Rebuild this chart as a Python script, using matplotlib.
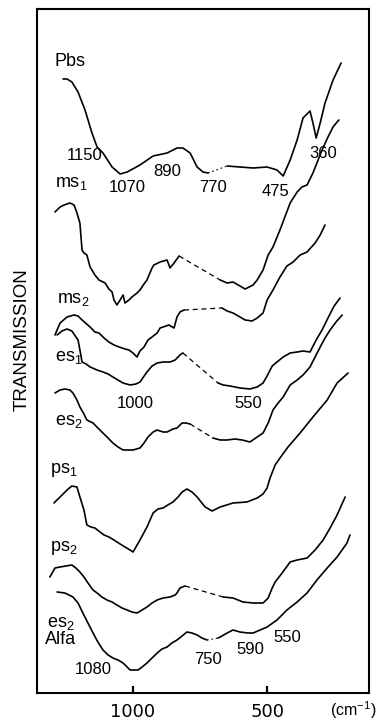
import numpy as np
import matplotlib
matplotlib.use('Agg')
import matplotlib.pyplot as plt

plt.rcParams['font.family'] = ['Liberation Sans', 'DejaVu Sans']
plt.rcParams['mathtext.fontset'] = 'custom'
plt.rcParams['mathtext.rm'] = 'Liberation Sans'
plt.rcParams['mathtext.it'] = 'Liberation Sans'

# IR spectra, wavenumber (cm-1) vs transmission (arbitrary, offset units)
# each spectrum has a section drawn dashed between the two gap wavenumbers
pbs_wn = [1261, 1246, 1228, 1205, 1179, 1153, 1134, 1112, 1078, 1048, 1022, 974, 925, 873, 836, 814,
          787, 761, 739, 720, 649, 601, 552, 500, 463, 440, 414, 388, 366, 340, 329, 317, 302, 284, 254, 224]
pbs_t = [614, 614, 611, 601, 583, 560, 546, 540, 526, 519, 521, 528, 537, 540, 545, 545,
         540, 526, 521, 520, 527, 526, 525, 526, 523, 517, 533, 553, 575, 582, 570, 555, 570, 590, 613, 630]
pbs_gap = (720, 649)

ms1_wn = [1291, 1272, 1257, 1235, 1220, 1209, 1198, 1190, 1183, 1172, 1160, 1142, 1127, 1104, 1090, 1078,
          1071, 1060, 1048, 1037, 1030, 1015, 1004, 985, 974, 959, 948, 929, 922, 899, 873, 862, 847, 828,
          675, 649, 627, 601, 582, 552, 537, 515, 496, 478, 452, 414, 388, 370, 351, 329, 295, 273, 254, 239, 232]
ms1_t = [481, 486, 488, 490, 488, 480, 470, 443, 440, 438, 426, 418, 413, 410, 404, 401,
         393, 388, 393, 398, 390, 393, 396, 400, 403, 409, 413, 425, 428, 431, 433, 425, 430, 437,
         413, 410, 411, 407, 404, 408, 413, 423, 438, 446, 463, 490, 501, 506, 508, 520, 543, 556, 566, 571, 573]
ms1_gap = (828, 675)

ms2_wn = [1291, 1272, 1246, 1220, 1205, 1190, 1160, 1142, 1127, 1108, 1090, 1071, 1052, 1030, 1015, 1000,
          985, 974, 959, 944, 929, 910, 899, 888, 866, 847, 836, 825, 810,
          668, 649, 627, 601, 582, 556, 537, 515, 500, 478, 452, 426, 403, 377, 351, 321, 302, 284]
ms2_t = [358, 370, 376, 378, 377, 373, 366, 361, 360, 355, 351, 348, 346, 344, 343, 340,
         336, 342, 346, 353, 356, 360, 365, 366, 368, 365, 376, 381, 383,
         385, 382, 380, 376, 373, 372, 375, 380, 393, 403, 416, 427, 431, 438, 441, 450, 458, 468]
ms2_gap = (810, 668)

es1_wn = [1283, 1265, 1246, 1228, 1205, 1198, 1190, 1175, 1160, 1134, 1112, 1093, 1075, 1056, 1037, 1011,
          989, 974, 948, 929, 910, 888, 862, 843, 825, 814,
          683, 664, 638, 601, 564, 537, 515, 500, 481, 463, 440, 414, 388, 366, 340, 317, 295, 273, 250, 228]
es1_t = [358, 362, 364, 362, 353, 343, 331, 329, 326, 323, 321, 319, 316, 313, 310, 308,
         309, 311, 321, 327, 330, 331, 331, 333, 338, 340,
         310, 308, 307, 305, 304, 306, 310, 317, 327, 331, 336, 340, 341, 342, 341, 353, 363, 375, 387, 395]
es1_gap = (814, 683)

es2_wn = [1291, 1272, 1254, 1235, 1224, 1209, 1198, 1183, 1172, 1149, 1131, 1112, 1093, 1075, 1056, 1037,
          1000, 974, 959, 944, 925, 910, 888, 873, 851, 836, 817, 803, 787,
          702, 675, 649, 620, 593, 564, 537, 515, 496, 478, 459, 440, 414, 388, 366, 340, 321, 302, 284, 265, 243, 220]
es2_t = [300, 303, 304, 303, 300, 293, 286, 279, 273, 270, 265, 260, 255, 250, 246, 243,
         243, 245, 250, 256, 261, 263, 261, 261, 264, 265, 270, 270, 269,
         255, 253, 253, 254, 253, 251, 256, 260, 270, 283, 290, 296, 308, 313, 318, 326, 336, 346, 355, 363, 371, 378]
es2_gap = (787, 702)

ps1_wn = [1295, 1272, 1246, 1228, 1209, 1198, 1183, 1172, 1157, 1142, 1123, 1108, 1090, 1071, 1048, 1030,
          1011, 1000, 989, 974, 948, 925, 907, 888, 870, 851, 832, 817, 799, 780, 761, 731, 705, 675,
          627, 575, 537, 515, 500, 489, 470, 452, 422, 377, 329, 276, 239, 198]
ps1_t = [190, 196, 203, 207, 206, 196, 183, 168, 166, 165, 161, 158, 156, 153, 149, 146,
         143, 141, 146, 153, 166, 180, 184, 185, 188, 191, 196, 201, 204, 201, 196, 186, 182, 186,
         190, 191, 195, 199, 205, 215, 228, 235, 246, 260, 276, 293, 310, 320]

ps2_wn = [1310, 1291, 1272, 1250, 1228, 1213, 1198, 1183, 1168, 1149, 1134, 1116, 1097, 1078, 1060, 1041,
          1022, 1004, 985, 966, 948, 929, 910, 888, 862, 843, 836, 825, 806,
          664, 627, 590, 552, 515, 496, 481, 470, 444, 414, 388, 351, 321, 291, 265, 239, 209]
ps2_t = [116, 125, 126, 127, 128, 125, 121, 116, 110, 103, 100, 96, 93, 91, 88, 85,
         83, 81, 80, 83, 86, 90, 93, 95, 96, 98, 100, 105, 107,
         96, 95, 91, 90, 90, 95, 105, 111, 120, 131, 133, 135, 143, 153, 165, 178, 196]
ps2_gap = (806, 664)

alfa_wn = [1283, 1254, 1224, 1205, 1187, 1168, 1149, 1131, 1112, 1093, 1075, 1056, 1037, 1022, 1011, 996,
           981, 966, 948, 929, 910, 892, 873, 855, 836, 817, 799, 780, 761, 743, 724,
           683, 675, 649, 627, 601, 571, 552, 526, 500, 463, 426, 388, 351, 314, 276, 239, 202, 191]
alfa_t = [101, 100, 96, 90, 80, 70, 60, 51, 43, 38, 35, 33, 30, 26, 23, 23,
          23, 26, 30, 35, 40, 44, 46, 50, 53, 57, 61, 60, 58, 55, 53,
          55, 56, 60, 63, 61, 60, 60, 63, 66, 73, 83, 91, 100, 113, 125, 136, 150, 158]
alfa_gap = (724, 683)

# band positions written next to the traces
band_labels = ['1150', '1070', '890', '770', '475', '360', '1000', '550', '1080', '750', '590', '550']
band_wn = [1179, 1022, 873, 702, 470, 291, 993, 571, 1149, 720, 564, 426]
band_t = [537, 505, 522, 505, 501, 540, 290, 290, 23, 33, 43, 56]

# sample names
names = ['Pbs', 'ms$_1$', 'ms$_2$', 'es$_1$', 'es$_2$', 'ps$_1$', 'ps$_2$', 'es$_2$', 'Alfa']
name_wn = [1291, 1291, 1283, 1291, 1291, 1310, 1310, 1321, 1328]
name_t = [631, 510, 393, 335, 271, 223, 145, 70, 53]

fig = plt.figure(figsize=(3.76, 7.21), dpi=100)
ax = fig.add_axes([37 / 376, 1 - 693 / 721, 332 / 376, 684 / 721])

solid = dict(color='black', lw=1.2, solid_joinstyle='round', solid_capstyle='round')
dashed = dict(color='black', lw=0.9, linestyle=(0, (4, 3)))
dotted = dict(color='black', lw=0.8, linestyle=(0, (1.5, 2.5)))


def draw(wn, t, gap=None, gapstyle=dashed):
    wn = np.array(wn)
    t = np.array(t)
    if gap is None:
        ax.plot(wn, t, **solid)
        return
    i = np.where(wn == gap[0])[0][0]
    j = np.where(wn == gap[1])[0][0]
    ax.plot(wn[:i + 1], t[:i + 1], **solid)
    ax.plot(wn[i:j + 1], t[i:j + 1], **gapstyle)
    ax.plot(wn[j:], t[j:], **solid)


draw(pbs_wn, pbs_t, pbs_gap, dotted)
draw(ms1_wn, ms1_t, ms1_gap)
draw(ms2_wn, ms2_t, ms2_gap)
draw(es1_wn, es1_t, es1_gap)
draw(es2_wn, es2_t, es2_gap)
draw(ps1_wn, ps1_t)
draw(ps2_wn, ps2_t, ps2_gap)
draw(alfa_wn, alfa_t, alfa_gap, dotted)

for lab, x, y in zip(band_labels, band_wn, band_t):
    ax.text(x, y, lab, fontsize=12, ha='center', va='center')
for lab, x, y in zip(names, name_wn, name_t):
    ax.text(x, y, lab, fontsize=13, ha='left', va='center')

ax.set_xlim(1358, 120)
ax.set_ylim(0, 684)
ax.set_yticks([])
ax.set_xticks([1000, 500])
ax.set_xticklabels(['1000', '500'], family='DejaVu Sans', fontsize=13)
ax.tick_params(axis='x', direction='in', length=5, width=1.6, pad=7)
for s in ax.spines.values():
    s.set_linewidth(1.5)

ax.text(-0.045, 0.516, 'TRANSMISSION', transform=ax.transAxes, rotation=90,
        fontsize=13.5, ha='center', va='center')
fig.text(353 / 376, 1 - 710 / 721, '(cm$^{-1}$)', fontsize=11.5, ha='center', va='center')

fig.savefig('out.png', dpi=100)
